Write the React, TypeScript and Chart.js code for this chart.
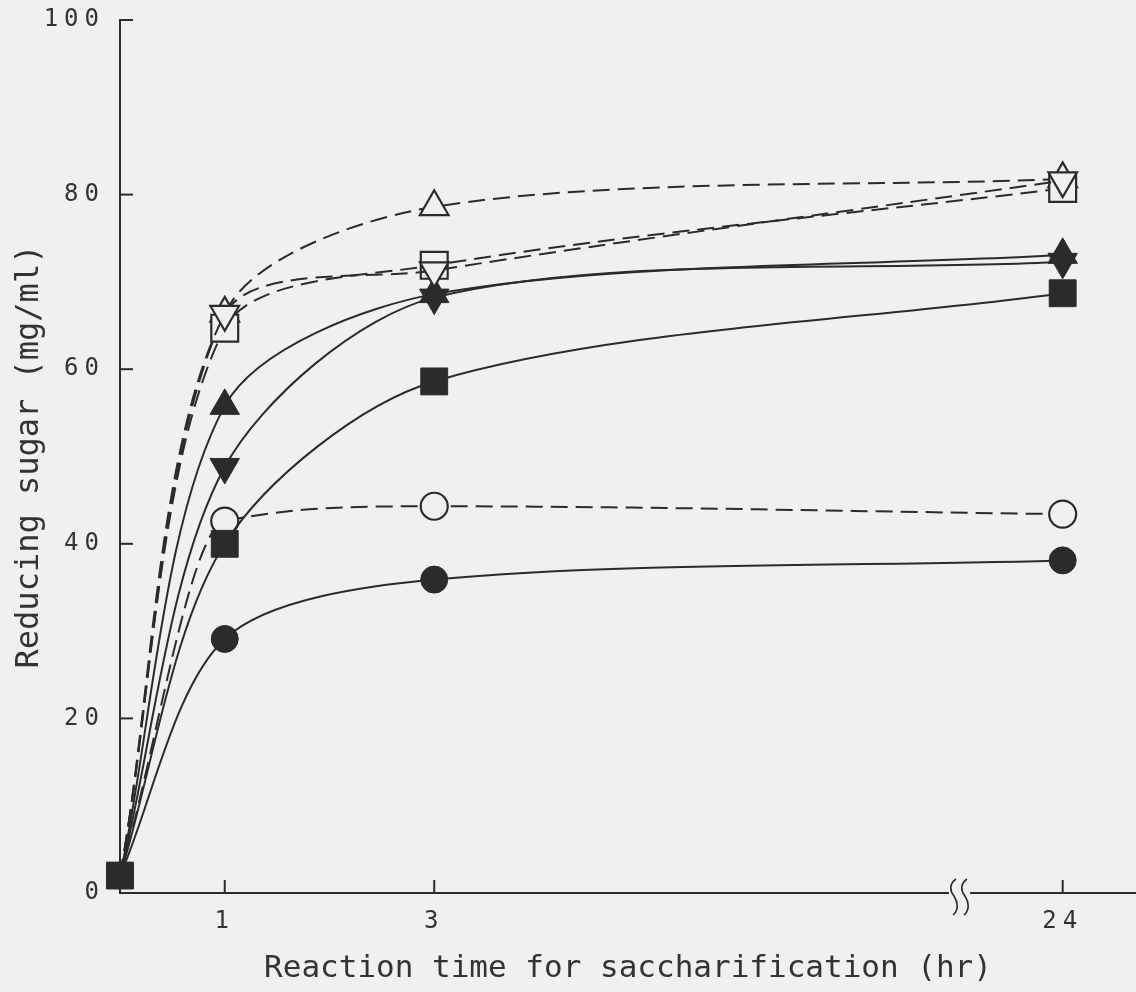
import React, { useEffect, useRef } from "react";
import { Chart, registerables } from "chart.js";

Chart.register(...registerables);

// ---- data ----
const hours = [0, 1, 3, 24];
const tickHours = [1, 3, 24];
const yTicks = [0, 20, 40, 60, 80, 100];

const openCircle = [2, 42.6, 44.3, 43.4];
const filledCircle = [2, 29.1, 35.9, 38.1];
const openTriUp = [2, 66.4, 78.6, 81.8];
const filledTriUp = [2, 55.8, 68.6, 73.1];
const openSquare = [2, 64.7, 71.9, 80.7];
const filledSquare = [2, 40.0, 58.6, 68.7];
const openTriDown = [2, 66.3, 71.3, 81.6];
const filledTriDown = [2, 48.8, 68.2, 72.3];

const xTitle = "Reaction time for saccharification (hr)";
const yTitle = "Reducing sugar (mg/ml)";

// ---- broken time axis: hours up to the break are linear, 24 h sits after it ----
const BREAK_AT = 8;
const AFTER_BREAK = 9;
const axisPos = (h: number) => (h <= BREAK_AT ? h : AFTER_BREAK + (h - 24) * 0.05);

const INK = "#2b2b2b";
const TEXT = "#333333";
const BG = "#f1eff0";
const FONT = "'DejaVu Sans Mono', 'Liberation Mono', monospace";

type Spec = {
  label: string;
  values: number[];
  style: "circle" | "rect" | "triangle";
  rotation: number;
  filled: boolean;
  dashed: boolean;
  radius: number;
  showOrigin: boolean;
  monotone: boolean;
};

const series: Spec[] = [
  { label: "filled square", values: filledSquare, style: "rect", rotation: 0, filled: true, dashed: false, radius: 19, showOrigin: true, monotone: false },
  { label: "open down-triangle", values: openTriDown, style: "triangle", rotation: 180, filled: false, dashed: true, radius: 16.5, showOrigin: false, monotone: false },
  { label: "open square", values: openSquare, style: "rect", rotation: 0, filled: false, dashed: true, radius: 19, showOrigin: false, monotone: false },
  { label: "open triangle", values: openTriUp, style: "triangle", rotation: 0, filled: false, dashed: true, radius: 16.5, showOrigin: false, monotone: false },
  { label: "open circle", values: openCircle, style: "circle", rotation: 0, filled: false, dashed: true, radius: 13.5, showOrigin: false, monotone: true },
  { label: "filled down-triangle", values: filledTriDown, style: "triangle", rotation: 180, filled: true, dashed: false, radius: 17, showOrigin: false, monotone: false },
  { label: "filled triangle", values: filledTriUp, style: "triangle", rotation: 0, filled: true, dashed: false, radius: 17, showOrigin: false, monotone: false },
  { label: "filled circle", values: filledCircle, style: "circle", rotation: 0, filled: true, dashed: false, radius: 13.5, showOrigin: false, monotone: false },
];

const zeroPadding = (s: any) => {
  s.paddingTop = 0;
  s.paddingBottom = 0;
  s.paddingLeft = 0;
  s.paddingRight = 0;
};

const decorPlugin = {
  id: "decor",
  beforeDraw(chart: any) {
    const { ctx, width, height } = chart;
    ctx.save();
    ctx.fillStyle = BG;
    ctx.fillRect(0, 0, width, height);
    ctx.restore();
  },
  beforeDatasetsDraw(chart: any) {
    const { ctx, chartArea, scales } = chart;
    const xs = scales.x;
    const ys = scales.y;
    ctx.save();
    ctx.strokeStyle = INK;
    ctx.lineWidth = 2;
    // inward ticks on the y axis
    yTicks.forEach((v) => {
      if (v === 0) return;
      const y = ys.getPixelForValue(v);
      ctx.beginPath();
      ctx.moveTo(chartArea.left, y);
      ctx.lineTo(chartArea.left + 13, y);
      ctx.stroke();
    });
    // inward ticks on the x axis
    tickHours.forEach((h) => {
      const x = xs.getPixelForValue(axisPos(h));
      ctx.beginPath();
      ctx.moveTo(x, chartArea.bottom);
      ctx.lineTo(x, chartArea.bottom - 13);
      ctx.stroke();
    });
    // axis break symbol
    const bx = xs.getPixelForValue(BREAK_AT) + 1;
    const by = chartArea.bottom;
    ctx.fillStyle = BG;
    ctx.fillRect(bx - 10, by - 4, 21, 8);
    ctx.lineWidth = 1.6;
    [-5, 6].forEach((dx) => {
      const xx = bx + dx;
      ctx.beginPath();
      ctx.moveTo(xx + 2, by - 14);
      ctx.bezierCurveTo(xx - 5, by - 9, xx - 4, by - 2, xx, by + 3);
      ctx.bezierCurveTo(xx + 4, by + 9, xx + 5, by + 17, xx - 1, by + 22);
      ctx.stroke();
    });
    ctx.restore();
  },
  afterDatasetsDraw(chart: any) {
    // tick labels are drawn after the datasets (z: 1): spaced like the original typeset digits
    (chart.ctx as any).letterSpacing = "6px";
  },
  afterDraw(chart: any) {
    (chart.ctx as any).letterSpacing = "0px";
  },
};

export default function App() {
  const canvasRef = useRef<HTMLCanvasElement | null>(null);

  useEffect(() => {
    const canvas = canvasRef.current;
    if (!canvas) return;

    const datasets = series.map((s) => ({
      label: s.label,
      data: hours.map((h, i) => ({ x: axisPos(h), y: s.values[i] })),
      borderColor: INK,
      borderWidth: 2,
      borderDash: s.dashed ? [17, 8] : [],
      cubicInterpolationMode: s.monotone ? ("monotone" as const) : ("default" as const),
      tension: 0.3,
      fill: false,
      clip: false as const,
      pointStyle: s.style,
      rotation: s.rotation,
      pointRotation: s.rotation,
      pointRadius: (ctx: any) => (ctx.dataIndex === 0 && !s.showOrigin ? 0 : s.radius),
      pointHoverRadius: (ctx: any) => (ctx.dataIndex === 0 && !s.showOrigin ? 0 : s.radius),
      pointBackgroundColor: s.filled ? INK : BG,
      pointBorderColor: INK,
      pointBorderWidth: s.filled ? 1 : 2.2,
    }));

    const chart = new Chart(canvas, {
      type: "line",
      data: { datasets },
      plugins: [decorPlugin],
      options: {
        animation: false,
        responsive: false,
        maintainAspectRatio: false,
        events: [],
        layout: { autoPadding: false, padding: { top: 20, left: 0, right: 0, bottom: 0 } },
        plugins: {
          legend: { display: false },
          tooltip: { enabled: false },
        },
        scales: {
          x: {
            type: "linear",
            min: 0,
            max: 9.7,
            afterFit: (s: any) => {
              s.height = 99;
              zeroPadding(s);
            },
            afterBuildTicks: (s: any) => {
              s.ticks = tickHours.map((h) => ({ value: axisPos(h) }));
            },
            grid: { display: false, drawTicks: false },
            border: { display: true, color: INK, width: 2 },
            ticks: {
              z: 1,
              padding: 14,
              color: TEXT,
              autoSkip: false,
              maxRotation: 0,
              font: { family: FONT, size: 24 },
              callback: (_v: any, i: number) => String(tickHours[i]),
            },
            title: {
              display: true,
              text: xTitle,
              color: TEXT,
              font: { family: FONT, size: 31 },
              padding: { top: 0, bottom: 4 },
            },
          },
          y: {
            type: "linear",
            min: 0,
            max: 100,
            afterFit: (s: any) => {
              s.width = 120;
              zeroPadding(s);
            },
            afterBuildTicks: (s: any) => {
              s.ticks = yTicks.map((v) => ({ value: v }));
            },
            grid: { display: false, drawTicks: false },
            border: { display: true, color: INK, width: 2 },
            ticks: {
              z: 1,
              padding: 15,
              color: TEXT,
              font: { family: FONT, size: 24 },
              callback: (v: any) => String(v),
            },
            title: {
              display: true,
              text: yTitle,
              color: TEXT,
              font: { family: FONT, size: 32 },
              padding: { top: 10, bottom: 0 },
            },
          },
        },
      } as any,
    });

    return () => {
      chart.destroy();
    };
  }, []);

  return (
    <div style={{ position: "absolute", left: 0, top: 0, width: 1136, height: 992, background: BG }}>
      <canvas ref={canvasRef} width={1136} height={992} style={{ display: "block", width: 1136, height: 992 }} />
    </div>
  );
}
